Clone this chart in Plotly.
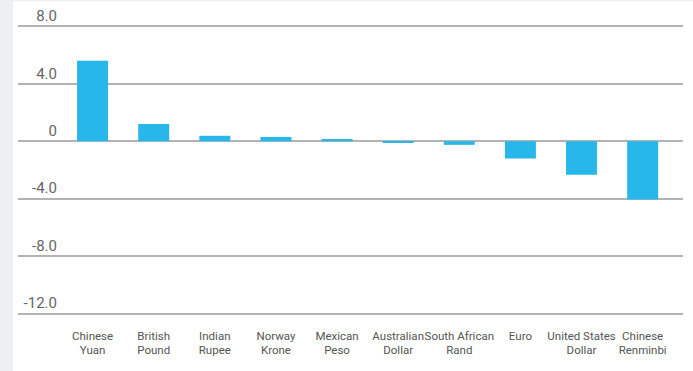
import plotly.graph_objects as go

categories = ["Chinese<br>Yuan", "British<br>Pound", "Indian<br>Rupee", "Norway<br>Krone",
              "Mexican<br>Peso", "Australian<br>Dollar", "South African<br>Rand", "Euro",
              "United States<br>Dollar", "Chinese<br>Renminbi"]
values = [5.6, 1.2, 0.38, 0.3, 0.16, -0.1, -0.25, -1.2, -2.33, -4.05]
tick_vals = [8, 4, 0, -4, -8, -12]
tick_text = ["8.0", "4.0", "0", "-4.0", "-8.0", "-12.0"]

fig = go.Figure(go.Bar(x=categories, y=values, marker=dict(color="#27B7EA", line=dict(width=0)),
                       width=0.507))

fig.update_layout(
    width=693, height=371,
    margin=dict(l=18, r=10, t=22, b=53),
    paper_bgcolor="white", plot_bgcolor="white",
    showlegend=False,
    font=dict(family="Roboto", color="#555"),
    xaxis=dict(range=[-1.22, 9.66], showgrid=False, zeroline=False, showline=False,
               automargin=False, ticklabelstandoff=9,
               ticks="", tickfont=dict(size=11.5, color="#555"), tickangle=0),
    yaxis=dict(range=[-12.3, 8.3], tickvals=tick_vals, ticktext=tick_text,
               automargin=False,
               showgrid=True, gridcolor="#b3b3b3", gridwidth=1.5,
               zeroline=True, zerolinecolor="#b3b3b3", zerolinewidth=1.5,
               showline=False, ticks="", ticklabelposition="outside top",
               ticklabelstandoff=-40, tickfont=dict(size=15, color="#666")),
    shapes=[
        dict(type="rect", xref="paper", yref="paper", x0=-0.03, x1=-0.0075, y0=-0.3, y1=1.2,
             fillcolor="#edf0f3", line=dict(width=0), layer="below"),
        dict(type="rect", xref="paper", yref="paper", x0=-0.03, x1=1.03, y0=1.0705, y1=1.2,
             fillcolor="#edf0f3", line=dict(width=0), layer="below"),
    ],
)

fig.write_html("out.html")
